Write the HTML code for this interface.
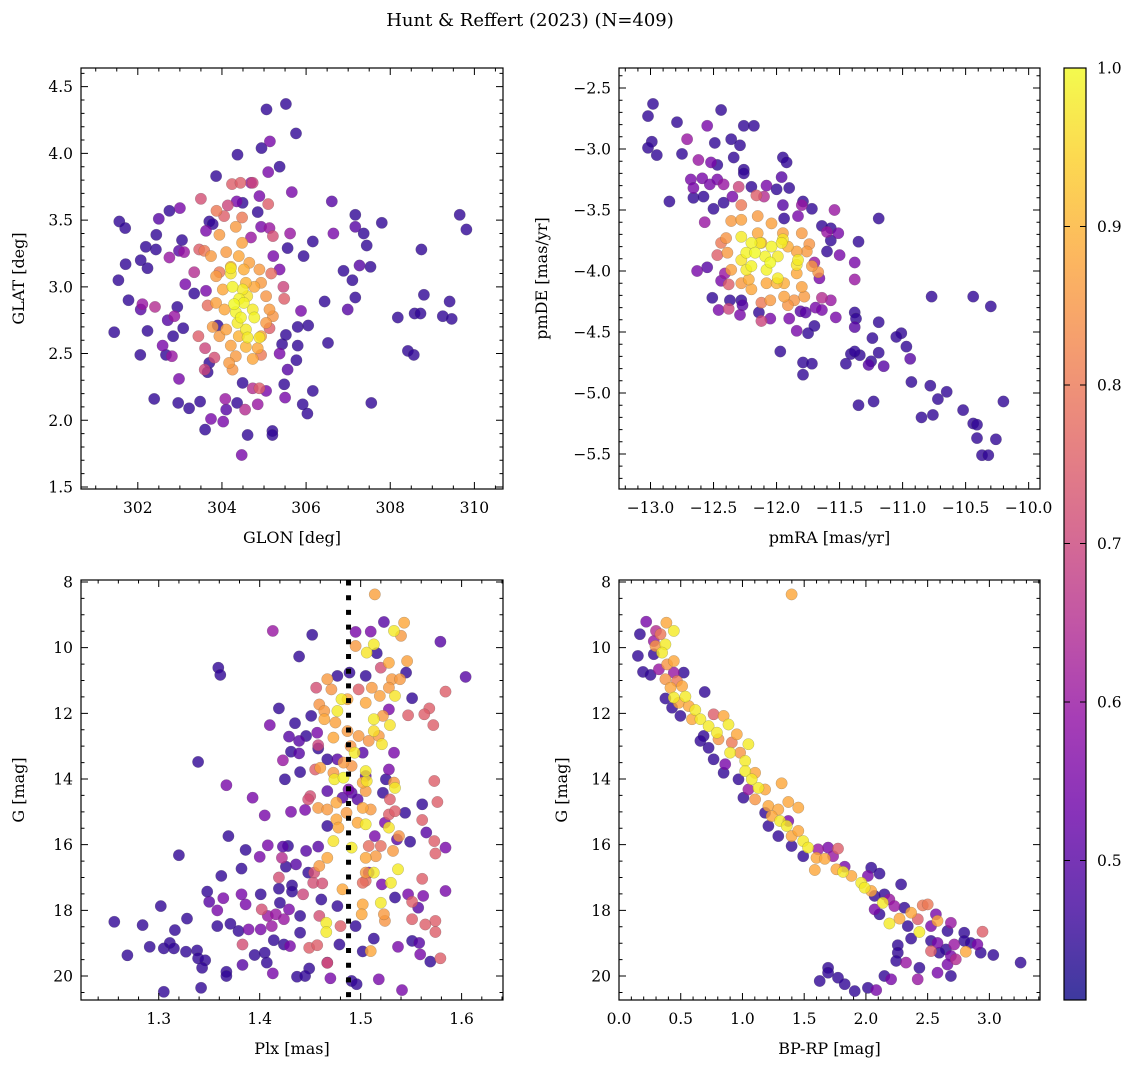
<!DOCTYPE html>
<html><head><meta charset="utf-8"><style>
html,body{margin:0;padding:0;background:#fff}
svg text{font-family:"DejaVu Serif","Liberation Serif",serif;fill:#000}
</style></head><body>
<svg id="fig" width="1136" height="1067" viewBox="0 0 1136 1067" xmlns="http://www.w3.org/2000/svg">
<defs>
<linearGradient id="plasmaGrad" x1="0" y1="1" x2="0" y2="0"></linearGradient>
</defs>
<text x="530" y="26" font-size="18" text-anchor="middle">Hunt &amp; Reffert (2023) (N=409)</text>
</svg>
<script>
// ---- Panel 1: GLON vs GLAT [lon, lat, prob]
const skyPoints = [
[305.06,4.33,.45],[305.52,4.37,.45],[305.76,4.15,.45],[305.14,4.09,.55],[304.94,4.04,.45],[304.37,3.99,.45],[305.37,3.90,.45],[305.1,3.86,.55],[303.86,3.83,.45],
[301.56,3.49,.45],[301.70,3.44,.45],[302.5,3.51,.5],[302.75,3.57,.45],[303.0,3.59,.55],[302.44,3.39,.45],[302.19,3.30,.45],[302.43,3.28,.45],[303.05,3.35,.45],[302.75,3.22,.6],
[302.07,3.20,.45],[301.71,3.17,.45],[302.23,3.14,.45],[301.54,3.05,.45],[301.78,2.90,.45],[302.07,2.83,.5],[302.11,2.87,.6],[302.41,2.85,.65],[302.94,2.85,.45],[301.44,2.66,.45],
[302.23,2.67,.45],[302.84,2.63,.45],[303.08,2.69,.45],[302.71,2.75,.5],[302.87,2.78,.6],[302.06,2.49,.45],[302.59,2.56,.55],[302.67,2.49,.45],[302.81,2.48,.6],[302.98,2.31,.55],
[302.39,2.16,.45],[302.96,2.13,.45],[303.22,2.09,.45],[303.48,2.14,.45],[303.6,1.93,.45],[303.74,2.01,.55],[304.03,1.99,.55],[304.08,2.16,.6],[304.1,2.08,.5],[304.36,2.13,.45],
[304.49,2.28,.45],[304.73,2.24,.65],[304.55,2.08,.65],[304.85,2.12,.6],[305.05,2.22,.55],[304.61,1.89,.45],[305.2,1.92,.45],[305.2,1.89,.45],[304.47,1.74,.55],[305.48,2.27,.45],
[305.5,2.17,.55],[306.16,2.22,.45],[305.92,2.12,.45],[306.03,2.05,.45],[307.55,2.13,.45],[305.56,2.38,.5],[305.77,2.45,.45],[305.8,2.56,.45],[305.37,2.50,.55],[305.43,2.57,.45],
[305.52,2.64,.45],[305.8,2.70,.45],[306.05,2.71,.45],[306.52,2.58,.45],[305.88,2.82,.55],[306.44,2.89,.45],[306.99,2.83,.5],[307.17,2.92,.45],[306.89,3.12,.45],[307.1,3.05,.45],
[307.27,3.16,.5],[307.53,3.15,.45],[307.44,3.31,.45],[307.37,3.40,.45],[307.17,3.45,.5],[307.17,3.54,.45],[307.8,3.48,.45],[306.61,3.64,.5],[306.65,3.40,.55],[306.16,3.34,.45],
[305.94,3.23,.45],[305.56,3.29,.45],[305.22,3.23,.55],[305.37,3.13,.55],[305.62,3.40,.6],[305.66,3.71,.55],[308.74,3.28,.45],[309.65,3.54,.45],[309.81,3.43,.45],[308.8,2.94,.45],
[309.41,2.89,.45],[308.58,2.80,.45],[308.72,2.80,.45],[309.25,2.78,.45],[309.46,2.76,.45],[308.18,2.77,.45],[308.42,2.52,.45],[308.56,2.49,.45],[303.34,2.95,.45],[303.62,2.97,.55],
[303.13,3.02,.55],[303.7,2.43,.45],[303.66,2.36,.45],[303.9,2.71,.45],[304.49,3.63,.45],[304.85,3.56,.45],[303.7,3.49,.45],[303.78,3.47,.45],[304.35,3.64,.55],[304.69,3.78,.6],
[304.89,3.68,.55],[304.93,3.45,.55],[305.13,3.44,.6],[304.69,3.37,.6],[302.98,3.27,.5],[303.1,3.26,.6],[303.62,3.42,.55],
[303.5,3.66,.72],[304.24,3.77,.75],[304.44,3.78,.75],[304.73,3.78,.7],[304.14,3.61,.7],[305.1,3.62,.75],[303.87,3.57,.8],[304.05,3.53,.75],[304.48,3.52,.8],[305.21,3.38,.72],
[303.46,3.28,.75],[303.58,3.27,.8],[303.34,3.11,.65],[305.46,3.0,.7],[305.48,2.91,.75],[303.44,2.63,.75],[303.6,2.54,.7],[303.82,2.47,.72],[303.59,2.38,.7],[304.89,2.24,.75],
[304.93,2.49,.8],[305.13,2.69,.75],[305.17,3.10,.78],[303.66,2.86,.78],[303.94,3.11,.8],
[303.94,3.39,.86],[304.33,3.45,.86],[304.48,3.33,.87],[304.1,3.26,.86],[304.4,3.23,.88],[304.65,3.18,.87],[304.89,3.13,.86],[303.86,3.08,.86],[304.93,3.03,.86],[305.05,2.93,.85],
[305.13,2.83,.86],[303.86,2.88,.87],[304.02,2.98,.88],[304.06,2.83,.88],[304.1,2.68,.87],[303.94,2.63,.86],[304.21,2.56,.87],[304.33,2.48,.86],[304.73,2.46,.88],[304.93,2.63,.87],
[305.05,2.73,.86],[304.17,2.43,.86],[304.25,2.38,.85],[304.57,3.03,.9],[304.77,3.0,.88],[303.78,2.70,.86],[303.74,3.23,.86],[304.21,3.15,.9],[304.52,3.13,.89],[305.21,2.78,.85],
[304.57,2.55,.9],[304.85,2.54,.88],[304.4,2.63,.9],
[304.21,3.14,.98],[304.21,3.10,.97],[304.25,3.0,.99],[304.49,2.98,.98],[304.41,2.91,.99],[304.29,2.87,1.0],[304.33,2.81,.99],[304.73,2.83,.98],[304.77,2.77,.99],[304.6,2.93,.97],
[304.45,2.77,.99],[304.57,2.68,.98],[304.61,2.62,.98],[304.89,2.62,.97],[304.52,2.88,.99],[304.37,2.73,.98]
];
// ---- Panel 2: pmRA vs pmDE [pmra, pmde, prob]
const pmPoints = [
[-12.98,-2.63,.45],[-13.02,-2.73,.45],[-12.79,-2.78,.45],[-12.44,-2.68,.45],[-12.55,-2.81,.55],[-12.26,-2.81,.45],[-12.18,-2.81,.45],[-12.71,-2.92,.6],[-12.99,-2.94,.45],[-13.02,-2.99,.45],
[-12.95,-3.05,.45],[-12.75,-3.04,.45],[-12.49,-2.95,.45],[-12.36,-2.92,.45],[-12.29,-2.97,.45],[-12.34,-3.07,.45],[-12.62,-3.09,.6],[-12.52,-3.11,.55],[-12.47,-3.13,.45],[-12.26,-3.17,.45],
[-12.26,-3.20,.45],[-11.95,-3.07,.45],[-11.92,-3.11,.45],[-11.96,-3.23,.5],[-11.9,-3.32,.45],[-12.0,-3.33,.45],[-12.08,-3.30,.55],[-12.2,-3.31,.45],[-12.68,-3.25,.55],[-12.59,-3.24,.55],
[-12.53,-3.29,.55],[-12.66,-3.32,.55],[-12.47,-3.25,.55],[-12.42,-3.29,.6],[-12.85,-3.43,.45],[-12.66,-3.40,.45],[-12.58,-3.39,.45],[-12.42,-3.44,.45],[-12.5,-3.49,.45],[-12.35,-3.39,.55],
[-12.3,-3.31,.7],[-12.28,-3.46,.8],[-12.16,-3.38,.75],[-12.1,-3.39,.65],[-12.57,-3.6,.6],[-11.79,-3.43,.45],[-11.72,-3.49,.45],[-11.8,-3.46,.6],[-11.83,-3.55,.55],[-11.95,-3.46,.5],
[-11.94,-3.57,.45],[-11.54,-3.5,.6],[-11.19,-3.57,.45],[-11.64,-3.63,.45],[-11.57,-3.65,.45],[-11.51,-3.69,.55],[-11.6,-3.68,.6],[-11.57,-3.75,.45],[-11.35,-3.76,.45],[-11.6,-3.84,.45],
[-11.5,-3.87,.55],[-11.38,-3.93,.55],[-11.38,-4.07,.6],[-11.7,-3.93,.6],[-11.66,-4.06,.55],[-12.63,-4.0,.55],[-12.55,-3.97,.5],[-12.44,-4.08,.55],[-12.41,-4.02,.6],[-12.38,-4.11,.75],
[-12.51,-4.22,.45],[-12.37,-4.24,.45],[-12.28,-4.24,.45],[-12.27,-4.28,.5],[-12.46,-4.32,.55],[-12.38,-4.31,.7],[-12.29,-4.36,.55],[-12.14,-4.34,.45],[-12.12,-4.41,.7],[-12.05,-4.39,.55],
[-11.9,-4.39,.55],[-11.81,-4.33,.5],[-11.84,-4.49,.55],[-11.75,-4.51,.45],[-11.7,-4.45,.45],[-11.77,-4.34,.5],[-11.69,-4.3,.55],[-11.64,-4.32,.55],[-11.57,-4.24,.6],[-11.53,-4.38,.55],
[-11.64,-4.22,.65],[-11.38,-4.34,.45],[-11.37,-4.39,.45],[-11.38,-4.46,.5],[-11.19,-4.42,.45],[-11.24,-4.55,.45],[-11.19,-4.67,.45],[-11.15,-4.78,.5],[-11.27,-4.77,.5],[-11.25,-4.74,.45],
[-11.34,-4.69,.45],[-11.41,-4.68,.45],[-11.38,-4.66,.45],[-11.45,-4.76,.45],[-11.97,-4.66,.45],[-11.79,-4.75,.45],[-11.72,-4.76,.45],[-11.79,-4.85,.45],[-11.01,-4.51,.45],[-11.05,-4.54,.45],
[-10.97,-4.62,.45],[-10.94,-4.72,.5],[-10.93,-4.91,.45],[-10.78,-4.94,.45],[-10.65,-4.99,.45],[-10.72,-5.05,.45],[-10.77,-4.21,.45],[-10.44,-4.21,.45],[-10.3,-4.29,.45],[-10.2,-5.07,.45],
[-11.35,-5.1,.45],[-11.23,-5.07,.45],[-10.85,-5.2,.45],[-10.76,-5.18,.45],[-10.52,-5.14,.45],[-10.44,-5.25,.45],[-10.41,-5.26,.45],[-10.41,-5.37,.45],[-10.26,-5.38,.45],[-10.37,-5.51,.45],
[-10.32,-5.51,.45],
[-12.36,-3.59,.86],[-12.28,-3.58,.87],[-12.15,-3.55,.86],[-12.04,-3.61,.87],[-12.4,-3.73,.85],[-12.15,-3.69,.88],[-11.95,-3.69,.87],[-11.8,-3.69,.86],[-11.74,-3.78,.85],[-11.84,-3.84,.87],
[-11.76,-3.84,.86],[-11.72,-3.96,.86],[-12.39,-3.85,.86],[-12.36,-3.99,.87],[-12.28,-4.1,.86],[-12.2,-4.15,.88],[-12.05,-4.24,.86],[-11.94,-4.21,.87],[-11.86,-4.24,.85],[-11.78,-4.21,.86],
[-12.08,-4.1,.88],[-11.94,-4.1,.89],[-11.84,-4.02,.88],[-11.8,-4.13,.87],[-12.12,-3.77,.89],[-11.91,-3.8,.89],[-12.0,-4.1,.9],[-12.22,-4.07,.89],[-12.44,-3.77,.8],[-12.47,-3.87,.75],
[-11.67,-4.01,.85],[-11.91,-4.28,.85],[-12.12,-4.26,.8],
[-12.28,-3.72,.98],[-12.2,-3.77,.99],[-12.13,-3.77,.98],[-12.04,-3.8,.99],[-11.96,-3.77,.98],[-11.95,-3.74,.97],[-12.24,-3.85,.99],[-12.17,-3.85,1.0],[-12.09,-3.88,.99],[-11.99,-3.88,.98],
[-11.84,-3.95,.97],[-11.83,-3.91,.98],[-12.2,-3.96,.99],[-12.05,-3.93,1.0],[-12.08,-3.99,.99],[-12.24,-3.99,.98],[-11.99,-4.06,.98],[-12.28,-3.91,.97]
];
// ---- Panel 3: Plx vs G [plx, gmag, prob]
const plxPoints = [
[1.452,9.61,.45],[1.413,9.49,.6],[1.439,10.27,.45],[1.359,10.61,.45],[1.361,10.83,.45],[1.579,9.82,.5],[1.604,10.89,.5],[1.523,9.22,.5],[1.495,9.52,.55],[1.51,9.51,.55],
[1.516,10.17,.45],[1.505,10.86,.45],[1.477,10.86,.45],[1.489,10.76,.45],[1.545,10.76,.45],[1.551,11.54,.45],[1.419,11.85,.45],[1.451,12.08,.45],[1.41,12.36,.55],[1.435,12.3,.45],
[1.446,12.69,.45],[1.429,12.71,.5],[1.439,12.84,.5],[1.457,12.59,.55],[1.458,13.07,.45],[1.431,13.17,.45],[1.423,13.43,.6],[1.439,13.22,.5],[1.467,13.4,.45],[1.339,13.48,.45],
[1.44,13.79,.45],[1.425,14.01,.45],[1.367,14.19,.55],[1.393,14.57,.55],[1.405,15.11,.55],[1.431,15.0,.55],[1.445,14.94,.55],[1.467,14.37,.5],[1.467,15.43,.45],[1.369,15.74,.45],
[1.32,16.32,.45],[1.408,16.02,.55],[1.386,16.16,.45],[1.4,16.37,.55],[1.423,16.06,.5],[1.428,16.04,.45],[1.446,16.19,.5],[1.458,16.06,.5],[1.436,16.6,.5],[1.426,16.67,.45],
[1.448,16.85,.45],[1.382,16.73,.45],[1.362,16.95,.45],[1.348,17.43,.45],[1.35,17.74,.5],[1.364,17.63,.55],[1.382,17.51,.55],[1.386,17.82,.55],[1.358,18.0,.55],[1.401,17.51,.45],
[1.419,17.34,.45],[1.432,17.24,.45],[1.432,17.43,.45],[1.42,17.77,.45],[1.429,17.97,.55],[1.44,18.17,.45],[1.461,17.67,.45],[1.477,17.87,.45],[1.302,17.87,.45],[1.328,18.25,.45],
[1.256,18.35,.45],[1.284,18.45,.45],[1.316,18.6,.45],[1.358,18.48,.45],[1.371,18.41,.45],[1.379,18.63,.45],[1.389,18.58,.55],[1.401,18.58,.55],[1.412,18.48,.6],[1.408,18.17,.6],
[1.416,18.12,.6],[1.424,18.27,.6],[1.44,18.68,.45],[1.269,19.37,.45],[1.291,19.11,.45],[1.305,19.16,.45],[1.311,18.99,.45],[1.315,19.16,.45],[1.327,19.26,.45],[1.338,19.22,.45],
[1.339,19.46,.45],[1.346,19.52,.45],[1.343,19.75,.45],[1.367,19.87,.45],[1.367,20.0,.45],[1.383,19.66,.5],[1.395,19.36,.45],[1.405,19.29,.45],[1.407,19.59,.45],[1.414,18.91,.45],
[1.424,19.04,.45],[1.43,19.09,.55],[1.413,19.92,.55],[1.437,20.02,.45],[1.449,19.77,.45],[1.445,20.0,.45],[1.479,19.04,.45],[1.491,20.15,.45],[1.496,20.25,.45],[1.47,20.07,.55],
[1.305,20.48,.45],[1.342,20.36,.45],[1.467,19.59,.6],[1.495,18.48,.45],[1.502,19.25,.45],[1.513,18.86,.45],[1.518,20.1,.55],[1.541,20.43,.55],[1.537,19.11,.55],[1.551,18.93,.45],
[1.558,18.99,.5],[1.559,19.34,.55],[1.569,19.56,.45],[1.562,17.56,.55],[1.584,17.41,.55],[1.534,17.61,.45],[1.547,17.51,.55],[1.557,17.92,.5],[1.521,17.21,.55],[1.561,14.77,.45],
[1.565,15.63,.5],[1.549,15.91,.45],[1.584,16.09,.55],[1.536,15.84,.5],[1.528,13.71,.55],[1.525,14.01,.45],[1.533,13.2,.55],[1.522,14.42,.45],[1.544,15.03,.45],[1.505,13.91,.5],
[1.497,14.62,.5],[1.491,14.42,.5],[1.502,13.2,.5],[1.477,13.4,.5],[1.514,15.74,.55],[1.524,15.33,.55],[1.482,14.57,.5],[1.508,16.85,.55],[1.528,11.88,.55],[1.488,14.32,.55],
[1.584,11.34,.75],[1.568,11.85,.75],[1.563,12.03,.75],[1.547,12.06,.75],[1.572,12.36,.75],[1.573,14.06,.75],[1.576,14.7,.75],[1.561,15.25,.75],[1.573,15.89,.75],[1.574,16.27,.75],
[1.561,17.04,.75],[1.574,18.32,.75],[1.574,18.66,.75],[1.579,19.46,.75],[1.551,18.27,.75],[1.564,18.43,.75],[1.551,17.74,.75],[1.456,11.22,.72],[1.45,14.52,.72],[1.422,16.4,.65],
[1.419,17.0,.72],[1.443,17.51,.7],[1.402,17.97,.72],[1.454,16.85,.72],[1.453,17.16,.72],[1.462,17.18,.72],[1.459,18.17,.72],[1.449,19.14,.75],[1.457,19.06,.75],[1.467,19.6,.72],
[1.383,19.04,.72],[1.48,18.48,.75],[1.458,12.97,.7],[1.455,13.71,.75],[1.448,14.62,.72],[1.529,14.62,.75],[1.528,15.08,.75],[1.534,14.98,.75],[1.505,17.1,.78],[1.502,17.16,.78],
[1.508,16.04,.78],[1.52,16.04,.78],[1.498,11.27,.75],[1.52,10.61,.72],
[1.514,8.38,.87],[1.543,9.24,.88],[1.54,9.64,.86],[1.495,9.95,.86],[1.546,10.41,.87],[1.528,10.46,.88],[1.531,10.96,.86],[1.539,10.96,.86],[1.511,11.22,.86],[1.519,11.47,.87],
[1.528,11.22,.86],[1.467,10.96,.86],[1.471,11.27,.85],[1.459,11.73,.85],[1.464,11.93,.86],[1.475,12.28,.87],[1.464,12.18,.88],[1.487,11.57,.88],[1.487,12.54,.86],[1.505,11.68,.88],
[1.522,12.08,.86],[1.498,12.69,.86],[1.473,12.74,.88],[1.508,12.84,.85],[1.518,12.69,.86],[1.49,13.0,.85],[1.46,13.66,.87],[1.483,13.5,.86],[1.491,13.6,.85],[1.473,13.81,.86],
[1.502,14.11,.88],[1.505,14.37,.86],[1.533,14.11,.86],[1.458,14.88,.86],[1.467,14.93,.86],[1.476,14.72,.88],[1.486,15.03,.86],[1.502,14.88,.88],[1.51,14.93,.86],[1.476,15.23,.88],
[1.497,15.33,.88],[1.538,15.74,.85],[1.532,16.19,.86],[1.505,16.4,.88],[1.515,16.35,.86],[1.467,16.4,.88],[1.459,16.65,.86],[1.505,16.85,.86],[1.482,17.36,.88],[1.502,17.82,.88],
[1.501,18.12,.88],[1.523,18.12,.86],[1.524,18.32,.85],[1.51,19.24,.88],[1.478,15.48,.88],
[1.533,9.49,.98],[1.513,9.9,.98],[1.506,10.15,.97],[1.481,11.57,.98],[1.477,11.93,.98],[1.534,11.47,.97],[1.513,12.18,.98],[1.529,12.36,.97],[1.513,12.54,.96],[1.521,12.94,.97],
[1.494,13.2,.98],[1.505,13.76,.98],[1.474,14.01,.98],[1.483,13.96,.99],[1.506,14.06,.97],[1.534,14.27,.98],[1.505,15.38,.98],[1.528,15.48,.97],[1.473,15.89,.97],[1.491,16.09,.98],
[1.513,16.85,.98],[1.537,16.75,.98],[1.53,17.16,.98],[1.52,17.77,.98],[1.466,18.38,.98],[1.466,18.66,.98]
];
// ---- Panel 4: BP-RP vs G [bprp, gmag, prob]
const cmdPoints = [
[1.398,8.38,.88],[0.22,9.21,.55],[0.169,9.59,.45],[0.153,10.25,.45],[0.194,10.74,.45],[0.255,10.83,.45],[0.282,10.2,.45],[0.282,9.8,.6],[0.3,9.49,.65],[0.336,9.59,.8],
[0.384,9.24,.88],[0.444,9.49,.98],[0.376,9.9,.98],[0.349,10.15,.98],[0.296,9.95,.85],[0.444,10.41,.88],[0.39,10.51,.85],[0.323,10.66,.6],[0.524,10.76,.45],[0.444,10.76,.6],
[0.376,10.96,.85],[0.47,11.02,.8],[0.417,11.22,.88],[0.511,11.17,.88],[0.694,11.35,.45],[0.376,11.55,.45],[0.444,11.52,.98],[0.538,11.49,.98],[0.43,11.83,.45],[0.497,12.08,.45],
[0.484,11.68,.88],[0.565,11.78,.88],[0.618,11.9,.98],[0.591,12.18,.88],[0.659,12.18,.98],[0.766,12.03,.75],[0.847,12.08,.88],[0.726,12.39,.98],[0.793,12.59,.98],[0.887,12.34,.98],
[0.685,12.69,.45],[0.659,12.84,.45],[0.726,13.05,.45],[0.766,13.4,.45],[0.806,12.79,.85],[0.954,12.64,.88],[0.914,12.89,.8],[1.048,12.94,.98],[0.9,13.2,.98],[0.981,13.2,.85],
[0.86,13.55,.55],[0.847,13.81,.45],[1.022,13.45,.98],[1.022,13.76,.98],[1.075,14.01,.98],[1.102,13.81,.88],[0.968,14.01,.45],[1.129,14.27,.98],[1.048,14.32,.6],[1.008,14.57,.45],
[1.102,14.62,.85],[1.183,14.32,.88],[1.317,14.13,.88],[1.371,14.7,.88],[1.452,14.87,.88],[1.21,14.82,.88],[1.29,14.93,.88],[1.183,15.03,.45],[1.237,15.13,.88],[1.304,15.28,.98],
[1.358,15.43,.98],[1.21,15.43,.45],[1.29,15.74,.45],[1.371,15.28,.55],[1.398,15.74,.88],[1.452,15.58,.88],[1.492,15.89,.98],[1.532,16.09,.98],[1.398,16.04,.45],[1.492,16.35,.45],
[1.613,16.14,.6],[1.694,16.09,.55],[1.774,16.12,.75],[1.6,16.4,.88],[1.667,16.43,.88],[1.734,16.35,.6],[1.586,16.77,.88],[1.761,16.75,.88],[1.815,16.83,.98],[1.828,16.67,.55],
[1.882,16.95,.88],[1.962,17.16,.98],[1.989,17.31,.98],[2.043,17.41,.88],[2.016,16.95,.55],[2.043,16.7,.45],[2.11,16.88,.45],[2.07,17.56,.45],[2.15,17.51,.45],[2.19,17.67,.6],
[2.285,17.21,.45],[2.137,17.77,.98],[2.231,17.87,.6],[2.312,17.92,.45],[2.366,18.07,.88],[2.272,18.25,.88],[2.46,17.85,.8],[2.5,17.82,.8],[2.42,18.27,.75],[2.58,18.32,.88],
[2.567,18.12,.55],[2.11,18.12,.45],[2.19,18.4,.98],[2.339,18.48,.45],[2.433,18.66,.98],[2.527,18.48,.55],[2.688,18.38,.6],[2.661,18.63,.45],[2.796,18.68,.45],[2.944,18.65,.75],
[2.366,18.86,.45],[2.527,18.93,.45],[2.58,18.99,.55],[2.648,19.19,.45],[2.715,19.04,.6],[2.796,18.93,.45],[2.849,18.99,.45],[2.903,19.04,.55],[2.527,19.24,.75],[2.594,19.29,.45],
[2.688,19.39,.55],[2.728,19.49,.65],[2.809,19.26,.88],[2.93,19.29,.45],[3.032,19.36,.45],[3.253,19.59,.45],[2.258,19.06,.45],[2.258,19.29,.45],[2.245,19.54,.45],[2.325,19.59,.6],
[2.433,19.75,.45],[2.661,19.65,.55],[2.58,19.9,.55],[2.688,20.0,.45],[2.419,20.1,.6],[2.15,20.0,.45],[2.204,20.1,.55],[1.694,19.75,.45],[1.694,19.9,.45],[1.774,20.05,.45],
[1.626,20.15,.45],[1.828,20.25,.45],[1.909,20.46,.45],[2.016,20.36,.45],[2.083,20.43,.55],[2.07,17.97,.55]
];
// tick label arrays
const p1XTicks = [302,304,306,308,310];
const p1YTicks = [1.5,2.0,2.5,3.0,3.5,4.0,4.5];
const p2XTicks = [-13.0,-12.5,-12.0,-11.5,-11.0,-10.5,-10.0];
const p2YTicks = [-5.5,-5.0,-4.5,-4.0,-3.5,-3.0,-2.5];
const p3XTicks = [1.3,1.4,1.5,1.6];
const gTicks = [8,10,12,14,16,18,20];
const p4XTicks = [0.0,0.5,1.0,1.5,2.0,2.5,3.0];
const cbTicks = [0.5,0.6,0.7,0.8,0.9,1.0];
const plxCut = [1.488];
const probMin = 0.412, probMax = 1.0;

const NS = 'http://www.w3.org/2000/svg';
const svg = document.getElementById('fig');
function mk(tag, attrs, parent) {
  const e = document.createElementNS(NS, tag);
  for (const k in attrs) e.setAttribute(k, attrs[k]);
  (parent || svg).appendChild(e);
  return e;
}
const plasmaStops = ['#0d0887','#41049d','#6a00a8','#8f0da4','#b12a90','#cc4778','#e16462','#f2844b','#fca636','#fcce25','#f0f921'];
function hex2rgb(h){return [parseInt(h.substr(1,2),16),parseInt(h.substr(3,2),16),parseInt(h.substr(5,2),16)];}
function plasma(t){
  t = Math.max(0, Math.min(1, t));
  const f = t * 10, i = Math.min(9, Math.floor(f)), r = f - i;
  const a = hex2rgb(plasmaStops[i]), b = hex2rgb(plasmaStops[i+1]);
  return 'rgb(' + a.map((v,k)=>Math.round(v + (b[k]-v)*r)).join(',') + ')';
}
function norm(p){return (p - probMin) / (probMax - probMin);}
function fmt(v, d){return (v < 0 ? '\u2212' : '') + Math.abs(v).toFixed(d);}

function panel(c) {
  const g = mk('g', {});
  
  
  const sx = v => c.x0 + (v - c.xmin) / (c.xmax - c.xmin) * (c.x1 - c.x0);
  const sy = c.inv ? (v => c.y0 + (v - c.ymin) / (c.ymax - c.ymin) * (c.y1 - c.y0))
                   : (v => c.y1 - (v - c.ymin) / (c.ymax - c.ymin) * (c.y1 - c.y0));
  const pts = c.data.map(d => d).sort((a, b) => a[2] - b[2]);
  const pg = mk('g', {}, g);
  
  
  pts.forEach(d => {
    const ci = mk('circle', {cx: sx(d[0]).toFixed(1), cy: sy(d[1]).toFixed(1), r: 5.7, fill: plasma(norm(d[2])), 'fill-opacity': 0.8, stroke: '#555', 'stroke-width': 0.4, 'stroke-opacity': 0.5}, pg);
    
    
  });
  if (c.extra) c.extra(g, sx, sy);
  const fr = mk('rect', {x: c.x0, y: c.y0, width: c.x1 - c.x0, height: c.y1 - c.y0, fill: 'none', stroke: '#000', 'stroke-width': 1.2}, g);
  
  
  let tp = '';
  function minors(min, max, step){const out=[];for(let v=Math.ceil(min/step-1e-9)*step; v<=max+1e-9; v+=step) out.push(v);return out;}
  minors(c.xmin, c.xmax, c.xMinor).forEach(v => {const x = sx(v); tp += `M${x},${c.y1}v-3.5M${x},${c.y0}v3.5`;});
  minors(c.ymin, c.ymax, c.yMinor).forEach(v => {const y = sy(v); tp += `M${c.x0},${y}h3.5M${c.x1},${y}h-3.5`;});
  c.xt.forEach(v => {const x = sx(v); tp += `M${x},${c.y1}v-7M${x},${c.y0}v7`;});
  c.yt.forEach(v => {const y = sy(v); tp += `M${c.x0},${y}h7M${c.x1},${y}h-7`;});
  const tk = mk('path', {d: tp, stroke: '#000', 'stroke-width': 1, fill: 'none'}, g);
  
  
  c.xt.forEach(v => {
    const t = mk('text', {x: sx(v), y: c.y1 + 24, 'font-size': 15.5, 'text-anchor': 'middle'}, g);
    
    
    t.textContent = fmt(v, c.xd);
  });
  c.yt.forEach(v => {
    const t = mk('text', {x: c.x0 - 8, y: sy(v) + 5.5, 'font-size': 15.5, 'text-anchor': 'end'}, g);
    
    
    t.textContent = fmt(v, c.yd);
  });
  const xl = mk('text', {x: (c.x0 + c.x1) / 2, y: c.y1 + 54, 'font-size': 16, 'text-anchor': 'middle'}, g);
  
  
  xl.textContent = c.xl;
  const yy = (c.y0 + c.y1) / 2;
  const yl = mk('text', {x: c.ylx, y: yy, 'font-size': 16, 'text-anchor': 'middle', transform: `rotate(-90 ${c.ylx} ${yy})`}, g);
  
  
  yl.textContent = c.yl;
}

panel({name:'panel-sky', data: skyPoints, x0:81, x1:503, y0:68, y1:489, xmin:300.65, xmax:310.68, ymin:1.485, ymax:4.64, inv:false,
  xt:p1XTicks, yt:p1YTicks, xMinor:0.5, yMinor:0.1, xd:0, yd:1, xl:'GLON [deg]', yl:'GLAT [deg]', ylx:24});
panel({name:'panel-proper-motion', data: pmPoints, x0:619, x1:1040, y0:68, y1:489, xmin:-13.25, xmax:-9.91, ymin:-5.787, ymax:-2.336, inv:false,
  xt:p2XTicks, yt:p2YTicks, xMinor:0.1, yMinor:0.1, xd:1, yd:1, xl:'pmRA [mas/yr]', yl:'pmDE [mas/yr]', ylx:547});
panel({name:'panel-parallax', data: plxPoints, x0:81, x1:503, y0:580, y1:1000, xmin:1.223, xmax:1.641, ymin:7.94, ymax:20.73, inv:true,
  xt:p3XTicks, yt:gTicks, xMinor:0.02, yMinor:0.5, xd:1, yd:0, xl:'Plx [mas]', yl:'G [mag]', ylx:24,
  extra: (g, sx, sy) => {
    plxCut.forEach(v => {
      const ln = mk('line', {x1: sx(v), x2: sx(v), y1: 580, y2: 1000, stroke: '#000', 'stroke-width': 5, 'stroke-dasharray': '5 9.7', 'stroke-dashoffset': -0.5}, g);
      
      
    });
  }});
panel({name:'panel-cmd', data: cmdPoints, x0:619, x1:1040, y0:580, y1:1000, xmin:0, xmax:3.41, ymin:7.94, ymax:20.73, inv:true,
  xt:p4XTicks, yt:gTicks, xMinor:0.1, yMinor:0.5, xd:1, yd:0, xl:'BP-RP [mag]', yl:'G [mag]', ylx:567});

// colorbar
const grad = document.getElementById('plasmaGrad');
plasmaStops.forEach((c, i) => {
  mk('stop', {offset: i / 10, 'stop-color': c, 'stop-opacity': 0.8}, grad);
});
const cb = mk('g', {});


const cbX0 = 1064, cbX1 = 1086, cbY0 = 68, cbY1 = 1000;
const cbRect = mk('rect', {x: cbX0, y: cbY0, width: cbX1 - cbX0, height: cbY1 - cbY0, fill: 'url(#plasmaGrad)', stroke: '#000', 'stroke-width': 1.2}, cb);


const cy = v => cbY1 - (v - probMin) / (probMax - probMin) * (cbY1 - cbY0);
cbTicks.forEach(v => {
  const y = cy(v);
  const l = mk('path', {d: `M${cbX1},${y}h-6M${cbX0},${y}h6`, stroke: '#000', 'stroke-width': 1}, cb);
  
  
  const t = mk('text', {x: cbX1 + 11, y: y + 5.5, 'font-size': 15.5}, cb);
  
  
  t.textContent = v.toFixed(1);
});
</script>
</body></html>
